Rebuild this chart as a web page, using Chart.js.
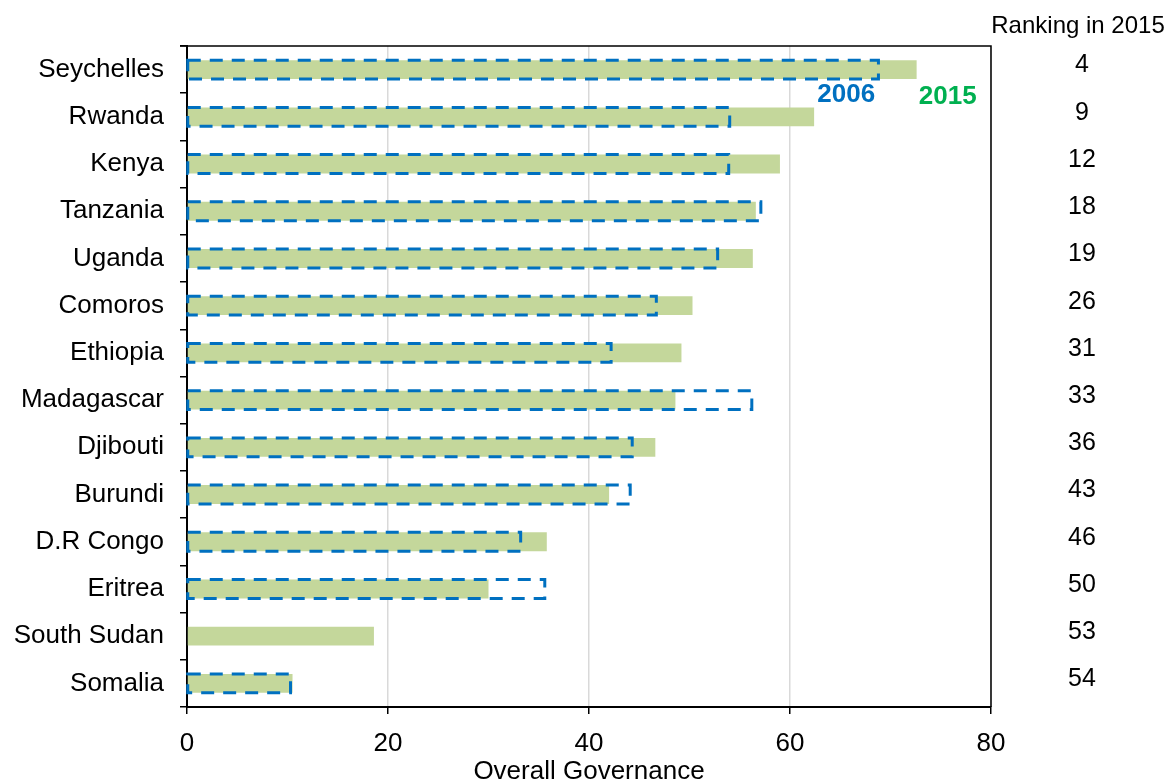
<!DOCTYPE html>
<html>
<head>
<meta charset="utf-8">
<script src="https://cdn.jsdelivr.net/npm/chart.js@4/dist/chart.umd.min.js"></script>
<style>
  html, body { margin: 0; padding: 0; background: #fff; }
</style>
</head>
<body>
<canvas id="chart" width="1166" height="780"></canvas>
<script>
const countries = ['Seychelles', 'Rwanda', 'Kenya', 'Tanzania', 'Uganda', 'Comoros', 'Ethiopia',
    'Madagascar', 'Djibouti', 'Burundi', 'D.R Congo', 'Eritrea', 'South Sudan', 'Somalia'];
const values2015 = [72.6, 62.4, 59.0, 56.6, 56.3, 50.3, 49.2, 48.6, 46.6, 42.0, 35.8, 30.0, 18.6, 10.5];
const values2006 = [68.8, 54.0, 53.9, 57.1, 52.8, 46.7, 42.2, 56.2, 44.3, 44.1, 33.2, 35.6, null, 10.3];
const ranking2015 = [4, 9, 12, 18, 19, 26, 31, 33, 36, 43, 46, 50, 53, 54];
const xTicks = [0, 20, 40, 60, 80];

const FONT = "'Liberation Sans', Arial, sans-serif";
const GREEN = '#C4D79B';
const BLUE = '#0070C0';

const dashedBars = {
    id: 'dashedBars',
    afterDatasetsDraw(chart) {
        const meta = chart.getDatasetMeta(1);
        const ctx = chart.ctx;
        ctx.save();
        ctx.strokeStyle = BLUE;
        ctx.lineWidth = 3;
        ctx.setLineDash([13, 9]);
        meta.data.forEach((bar, i) => {
            if (values2006[i] === null) return;
            const p = bar.getProps(['x', 'y', 'base', 'height'], true);
            ctx.beginPath();
            ctx.rect(p.base, p.y - p.height / 2, p.x - p.base, p.height);
            ctx.stroke();
        });
        ctx.restore();
    }
};

const extras = {
    id: 'extras',
    afterDraw(chart) {
        const ctx = chart.ctx;
        const area = chart.chartArea;
        const x = chart.scales.x;
        const y = chart.scales.y;

        // top and right frame
        ctx.save();
        ctx.strokeStyle = '#000';
        ctx.lineWidth = 1.5;
        ctx.beginPath();
        ctx.moveTo(area.left - 7, area.top);
        ctx.lineTo(area.right, area.top);
        ctx.lineTo(area.right, area.bottom);
        ctx.stroke();

        // ranking column
        ctx.fillStyle = '#000';
        ctx.textAlign = 'center';
        ctx.textBaseline = 'middle';
        ctx.font = '24px ' + FONT;
        ctx.fillText('Ranking in 2015', 1078, 26);
        ctx.font = '25px ' + FONT;
        ranking2015.forEach((r, i) => {
            ctx.fillText(String(r), 1082, y.getPixelForValue(i) - 4);
        });

        // series labels
        ctx.font = 'bold 26px ' + FONT;
        const labelY = y.getPixelForValue(0) + 25;
        ctx.fillStyle = BLUE;
        ctx.fillText('2006', x.getPixelForValue(65.6), labelY);
        ctx.fillStyle = '#00B050';
        ctx.fillText('2015', x.getPixelForValue(75.7), labelY + 2);
        ctx.restore();
    }
};

new Chart(document.getElementById('chart'), {
    type: 'bar',
    data: {
        labels: countries,
        datasets: [{
            label: '2015',
            data: values2015,
            backgroundColor: GREEN,
            borderWidth: 0,
            grouped: false,
            barPercentage: 0.40,
            categoryPercentage: 1
        }, {
            label: '2006',
            data: values2006,
            backgroundColor: 'rgba(0,0,0,0)',
            borderWidth: 0,
            grouped: false,
            barPercentage: 0.40,
            categoryPercentage: 1
        }]
    },
    options: {
        indexAxis: 'y',
        responsive: false,
        animation: false,
        layout: { padding: { top: 46, right: 175, left: 0, bottom: 0 } },
        plugins: {
            legend: { display: false },
            tooltip: { enabled: false }
        },
        scales: {
            x: {
                min: 0,
                max: 80,
                afterBuildTicks: (scale) => { scale.ticks = xTicks.map(v => ({ value: v })); },
                afterFit: (scale) => { scale.height = 73; },
                ticks: { color: '#000', font: { family: FONT, size: 26 }, padding: 14 },
                grid: { color: '#D9D9D9', lineWidth: 1.5, tickColor: '#000', tickLength: 7 },
                border: { color: '#000', width: 2 },
                title: {
                    display: true,
                    text: 'Overall Governance',
                    color: '#000',
                    font: { family: FONT, size: 26 },
                    padding: { top: 0, bottom: -7 }
                }
            },
            y: {
                offset: true,
                afterFit: (scale) => { scale.width = 187; },
                ticks: { color: '#000', font: { family: FONT, size: 26 }, padding: 16, autoSkip: false },
                grid: { offset: true, drawOnChartArea: false, color: '#000', tickColor: '#000', tickLength: 7, lineWidth: 1.5 },
                border: { color: '#000', width: 2 }
            }
        }
    },
    plugins: [dashedBars, extras]
});
</script>
</body>
</html>
